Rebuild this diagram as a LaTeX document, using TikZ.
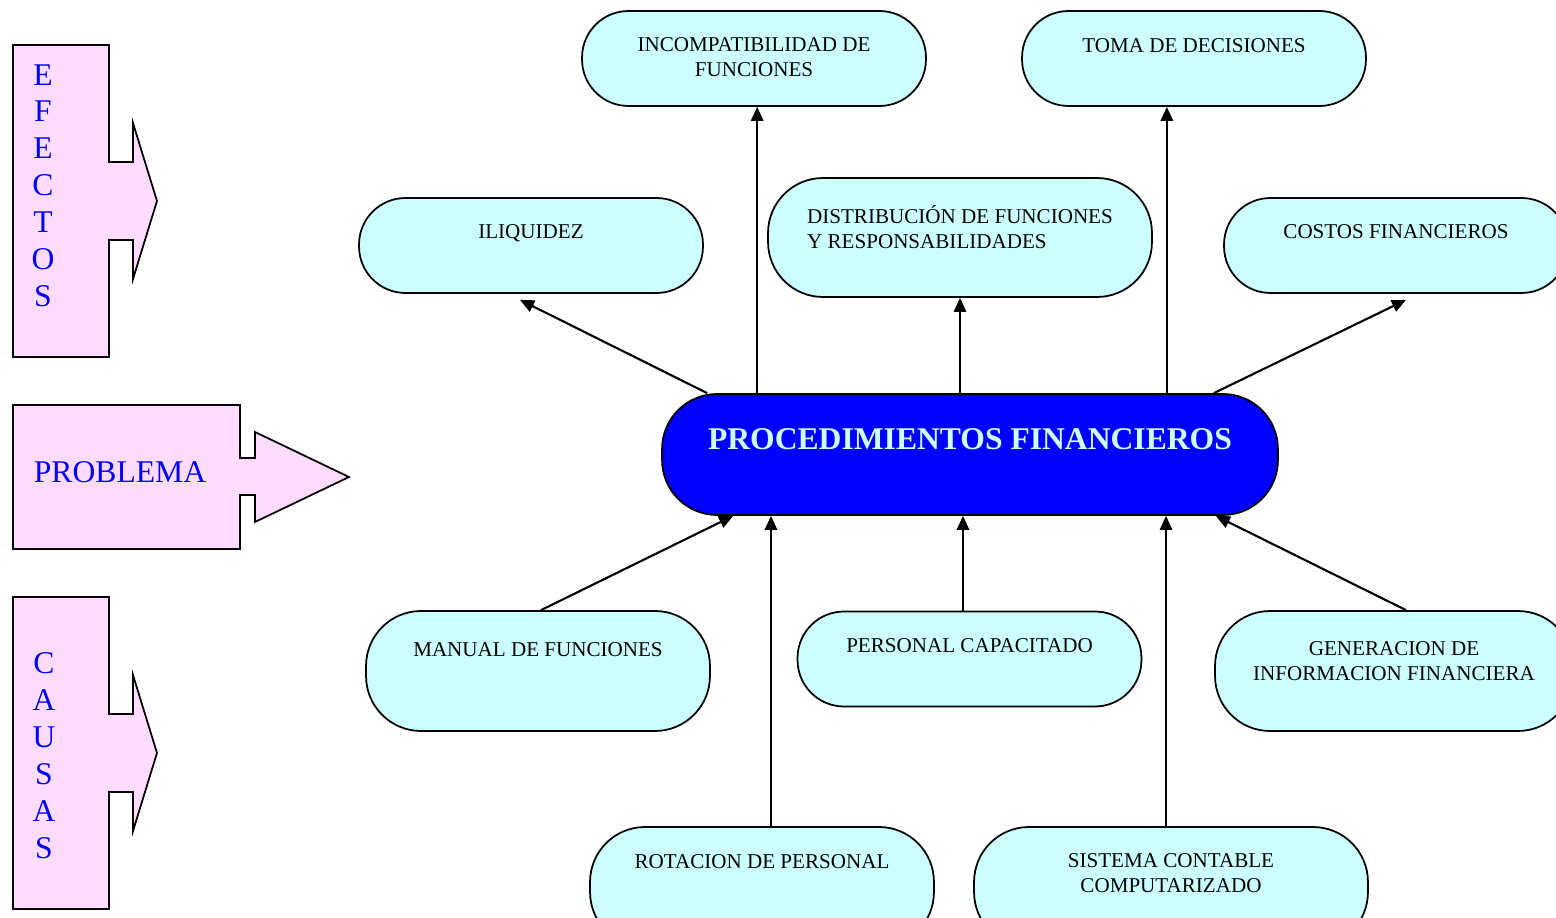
\documentclass[tikz,border=0pt]{standalone}
\usepackage{fontspec}
\setmainfont{Liberation Serif}
\usetikzlibrary{arrows.meta}
\definecolor{pinkbox}{RGB}{255,219,255}
\definecolor{cyanbox}{RGB}{204,255,255}

\begin{document}
\begin{tikzpicture}[x=0.02cm,y=-0.02cm,
    box/.style={draw,line width=1pt,fill=cyanbox,rounded corners=0.93cm,minimum width=6.88cm,minimum height=1.9cm,inner sep=0pt},
    txt/.style={anchor=north,inner sep=0pt,align=center,font=\fontsize{12}{14}\selectfont,yshift=#1},
    txt/.default=-0.55cm,
    side/.style={draw,line width=1pt,fill=pinkbox},
    sidetxt/.style={text=blue,inner sep=0pt,align=center,font=\fontsize{18}{21}\selectfont},
    link/.style={line width=1.2pt,-{Triangle[length=8pt,width=7pt]}}]
  \useasboundingbox (0,0) rectangle (1556,918);

  \draw[side] (13,45) -- (109,45) -- (109,162) -- (133,162) -- (133,123) -- (157,201) -- (133,279) -- (133,240) -- (109,240) -- (109,357) -- (13,357) -- cycle;
  \node[sidetxt] (efectos) at (43,185.5) {E\\F\\E\\C\\T\\O\\S};
  \draw[side] (13,405) -- (240,405) -- (240,458) -- (255,458) -- (255,432) -- (349,477) -- (255,522) -- (255,495) -- (240,495) -- (240,549) -- (13,549) -- cycle;
  \node[sidetxt] (problema) at (120,472) {PROBLEMA};
  \draw[side] (13,597) -- (109,597) -- (109,714) -- (133,714) -- (133,675) -- (157,753) -- (133,831) -- (133,792) -- (109,792) -- (109,909) -- (13,909) -- cycle;
  \node[sidetxt] (causas) at (44,755.5) {C\\A\\U\\S\\A\\S};

  \node[box] (incomp) at (754,58.5) {};
  \node[txt] (incomp-t) at (incomp.north) {INCOMPATIBILIDAD DE\\FUNCIONES};
  \node[box] (toma) at (1194,58.5) {};
  \node[txt=-0.57cm] (toma-t) at (toma.north) {TOMA DE DECISIONES};
  \node[box] (iliq) at (531,245.5) {};
  \node[txt] (iliq-t) at (iliq.north) {ILIQUIDEZ};
  \node[box,minimum width=7.68cm,minimum height=2.38cm,rounded corners=1.1cm] (distrib) at (960,237.5) {};
  \node[txt=-0.56cm,align=left] (distrib-t) at (distrib.north) {DISTRIBUCIÓN DE FUNCIONES\\Y RESPONSABILIDADES};
  \node[box] (costos) at (1396,245.5) {};
  \node[txt] (costos-t) at (costos.north) {COSTOS FINANCIEROS};

  \node[box,fill=blue,minimum width=12.32cm,minimum height=2.42cm,rounded corners=1.1cm] (main) at (970,454.5) {};
  \node[txt=-0.71cm,text=cyanbox,font=\bfseries\fontsize{18}{21}\selectfont] (main-t) at (main.north) {PROCEDIMIENTOS FINANCIEROS};

  \node[box,minimum height=2.4cm,rounded corners=1.1cm] (manual) at (538,671) {};
  \node[txt=-0.65cm] (manual-t) at (manual.north) {MANUAL DE FUNCIONES};
  \node[box] (personal) at (969.5,659) {};
  \node[txt] (personal-t) at (personal.north) {PERSONAL CAPACITADO};
  \node[box,minimum width=7.16cm,minimum height=2.4cm,rounded corners=1.1cm] (generacion) at (1394,671) {};
  \node[txt=-0.63cm] (generacion-t) at (generacion.north) {GENERACION DE\\INFORMACION FINANCIERA};
  \node[box,minimum height=2.4cm,rounded corners=1.1cm] (rotacion) at (762,887) {};
  \node[txt=-0.57cm] (rotacion-t) at (rotacion.north) {ROTACION DE PERSONAL};
  \node[box,minimum width=7.88cm,minimum height=2.4cm,rounded corners=1.1cm] (sistema) at (1171,887) {};
  \node[txt] (sistema-t) at (sistema.north) {SISTEMA CONTABLE\\COMPUTARIZADO};

  \coordinate (e1) at ([xshift=0.92cm]main.north west);
  \coordinate (e2) at ([xshift=1.92cm]main.north west);
  \coordinate (e4) at ([xshift=-2.24cm]main.north east);
  \coordinate (e5) at ([xshift=-1.3cm]main.north east);
  \draw[link] (e1) -- ([xshift=-0.22cm,yshift=-0.12cm]iliq.south);
  \draw[link] (e2) -- (e2 |- incomp.south);
  \draw[link] (distrib.south |- main.north) -- (distrib.south);
  \draw[link] (e4) -- (e4 |- toma.south);
  \draw[link] (e5) -- ([xshift=0.2cm,yshift=-0.12cm]costos.south);

  \coordinate (c2) at ([xshift=0.18cm]rotacion.north);
  \coordinate (c3) at ([xshift=-0.13cm]personal.north);
  \coordinate (c4) at ([xshift=-0.1cm]sistema.north);
  \draw[link] ([xshift=0.06cm]manual.north) -- ([xshift=1.44cm]main.south west);
  \draw[link] (c2) -- (c2 |- main.south);
  \draw[link] (c3) -- (c3 |- main.south);
  \draw[link] (c4) -- (c4 |- main.south);
  \draw[link] ([xshift=0.24cm]generacion.north) -- ([xshift=-1.26cm]main.south east);
\end{tikzpicture}
\end{document}
